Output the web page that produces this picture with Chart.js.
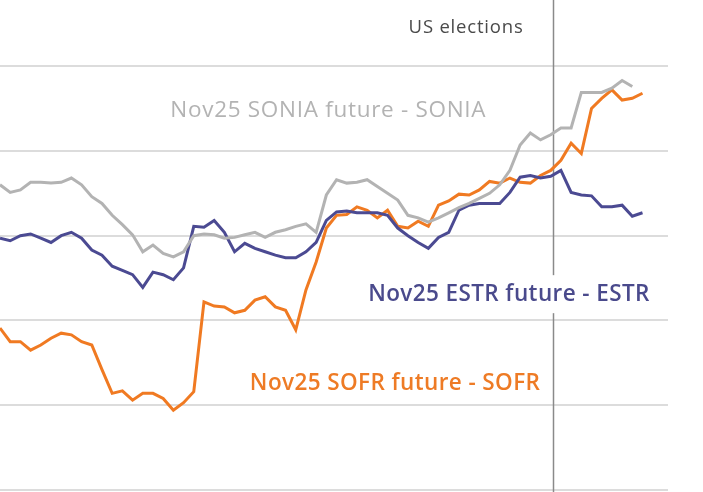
<!DOCTYPE html>
<html>
<head>
<meta charset="utf-8">
<script src="https://cdn.jsdelivr.net/npm/chart.js@4.4.1/dist/chart.umd.min.js"></script>
<style>
  html, body { margin: 0; padding: 0; background: #fff; }
  #wrap { width: 703px; height: 492px; position: relative; }
</style>
</head>
<body>
<div id="wrap"><canvas id="c"></canvas></div>
<script>
// business days, roughly mid Aug -> mid Nov 2024
const days = Array.from({ length: 64 }, (_, i) => i);

const sonia = [3.60, 3.51, 3.54, 3.63, 3.63, 3.62, 3.63, 3.68, 3.60, 3.46,
  3.38, 3.24, 3.13, 3.01, 2.81, 2.89, 2.79, 2.75, 2.81, 3.00,
  3.02, 3.01, 2.97, 2.98, 3.01, 3.04, 2.98, 3.04, 3.07, 3.11,
  3.14, 3.04, 3.48, 3.66, 3.62, 3.63, 3.66, 3.58, 3.50, 3.42,
  3.24, 3.21, 3.16, 3.21, 3.27, 3.33, 3.38, 3.44, 3.50, 3.60,
  3.77, 4.07, 4.21, 4.13, 4.19, 4.27, 4.27, 4.69, 4.69, 4.69,
  4.74, 4.83, 4.76, null];

const estr = [2.97, 2.94, 3.00, 3.02, 2.97, 2.92, 3.00, 3.04, 2.97, 2.83,
  2.77, 2.64, 2.59, 2.54, 2.39, 2.57, 2.54, 2.48, 2.62, 3.11,
  3.10, 3.18, 3.04, 2.81, 2.91, 2.85, 2.81, 2.77, 2.74, 2.74,
  2.81, 2.92, 3.18, 3.28, 3.29, 3.27, 3.27, 3.27, 3.24, 3.09,
  3.00, 2.92, 2.85, 2.98, 3.04, 3.30, 3.36, 3.38, 3.38, 3.38,
  3.51, 3.69, 3.71, 3.68, 3.70, 3.77, 3.51, 3.48, 3.47, 3.34,
  3.34, 3.36, 3.23, 3.27];

const sofr = [1.91, 1.75, 1.75, 1.65, 1.71, 1.79, 1.85, 1.83, 1.75, 1.71,
  1.42, 1.14, 1.17, 1.06, 1.14, 1.14, 1.08, 0.94, 1.03, 1.16,
  2.22, 2.17, 2.16, 2.09, 2.12, 2.24, 2.28, 2.16, 2.12, 1.89,
  2.36, 2.69, 3.09, 3.24, 3.25, 3.34, 3.30, 3.21, 3.30, 3.11,
  3.09, 3.17, 3.11, 3.36, 3.41, 3.49, 3.48, 3.54, 3.64, 3.62,
  3.68, 3.63, 3.62, 3.71, 3.77, 3.89, 4.09, 3.97, 4.50, 4.62,
  4.72, 4.60, 4.62, 4.68];

const yTicks = [0, 1, 2, 3, 4, 5];
const electionDay = 54.2;

// label anchors in data units [x, y]
const labels = [
  { text: 'Nov25 SONIA future - SONIA', x: 16.7, y: 4.48, color: '#b3b3b3', font: '500 22.5px "Open Sans"', ls: '0.7px', bg: false },
  { text: 'Nov25 ESTR future - ESTR', x: 36.1, y: 2.31, color: '#4a4a8c', font: '600 22.5px "Open Sans"', ls: '0.4px', bg: true },
  { text: 'Nov25 SOFR future - SOFR', x: 24.5, y: 1.25, color: '#ee7b25', font: '600 22.5px "Open Sans"', ls: '0.4px', bg: false },
];

const annot = {
  id: 'annot',
  beforeDatasetsDraw(chart) {
    const { ctx, scales: { x, y } } = chart;
    const px = Math.round(x.getPixelForValue(electionDay)) + 0.5;
    ctx.save();
    ctx.strokeStyle = '#8a8a8a';
    ctx.lineWidth = 1.5;
    ctx.beginPath();
    ctx.moveTo(px, 0);
    ctx.lineTo(px, chart.height);
    ctx.stroke();
    ctx.fillStyle = '#4a4a4a';
    ctx.font = '18.5px "Open Sans"';
    ctx.letterSpacing = '0.8px';
    ctx.textAlign = 'right';
    ctx.textBaseline = 'middle';
    ctx.fillText('US elections', px - 30, y.getPixelForValue(5.45));
    ctx.restore();
  },
  afterDatasetsDraw(chart) {
    const { ctx, scales: { x, y } } = chart;
    ctx.save();
    ctx.textAlign = 'left';
    ctx.textBaseline = 'middle';
    labels.forEach(l => {
      ctx.font = l.font;
      ctx.letterSpacing = l.ls;
      const lx = x.getPixelForValue(l.x);
      const ly = y.getPixelForValue(l.y);
      if (l.bg) {
        const w = ctx.measureText(l.text).width;
        ctx.fillStyle = '#fff';
        ctx.fillRect(lx - 4, ly - 19, w + 8, 38);
      }
      ctx.fillStyle = l.color;
      ctx.fillText(l.text, lx, ly);
    });
    ctx.restore();
  }
};

const line = (data, color) => ({
  data, borderColor: color, borderWidth: 3, pointRadius: 0,
  tension: 0, fill: false, spanGaps: false,
});

new Chart(document.getElementById('c'), {
  type: 'line',
  data: {
    labels: days,
    datasets: [
      line(sonia, '#b3b3b3'),
      line(estr, '#4b4a92'),
      line(sofr, '#f07a22'),
    ],
  },
  options: {
    responsive: true,
    maintainAspectRatio: false,
    animation: false,
    layout: { padding: { left: 0, right: 35, top: 0, bottom: 2 } },
    scales: {
      x: {
        type: 'linear', min: 0, max: 65.5, display: false,
      },
      y: {
        min: 0, max: 5.78,
        afterBuildTicks: (axis) => { axis.ticks = yTicks.map(v => ({ value: v })); },
        ticks: { display: false },
        grid: { color: '#dcdcdc', lineWidth: 2, drawTicks: false },
        border: { display: false },
      },
    },
    plugins: { legend: { display: false }, tooltip: { enabled: false } },
  },
  plugins: [annot],
});
</script>
</body>
</html>
